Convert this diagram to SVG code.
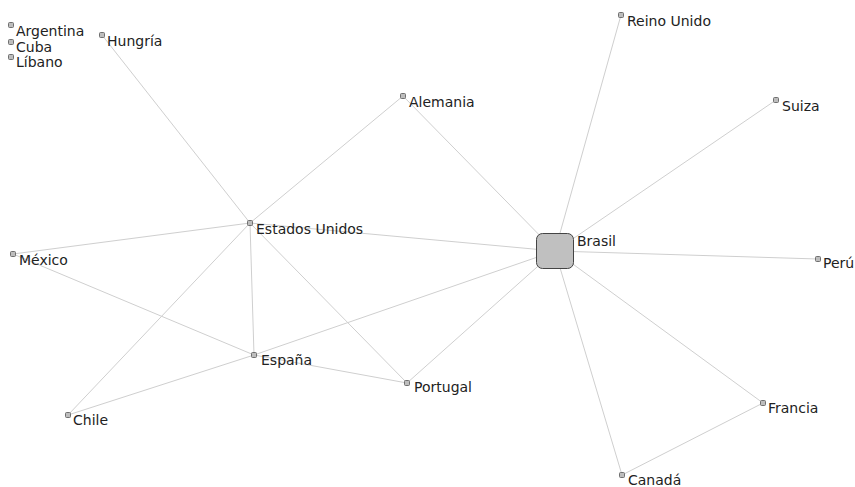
<svg xmlns="http://www.w3.org/2000/svg" width="855" height="487" viewBox="0 0 855 487">
<style>
.e{stroke:#cfcfcf;stroke-width:1;fill:none}
.n{fill:#bdbdbd;stroke:#707070;stroke-width:1}
.t{font-family:"DejaVu Sans",Verdana,sans-serif;font-size:14px;fill:#222}
</style>
<rect width="855" height="487" fill="#fff"/>
<g id="connectors">
<line class="e" x1="102" y1="35" x2="250" y2="223"/>
<line class="e" x1="403" y1="96" x2="250" y2="223"/>
<line class="e" x1="403" y1="96" x2="555" y2="251"/>
<line class="e" x1="621" y1="15" x2="555" y2="251"/>
<line class="e" x1="776" y1="100" x2="555" y2="251"/>
<line class="e" x1="250" y1="223" x2="555" y2="251"/>
<line class="e" x1="818" y1="259" x2="555" y2="251"/>
<line class="e" x1="13" y1="254" x2="250" y2="223"/>
<line class="e" x1="13" y1="254" x2="254" y2="355"/>
<line class="e" x1="254" y1="355" x2="555" y2="251"/>
<line class="e" x1="254" y1="355" x2="407" y2="383"/>
<line class="e" x1="254" y1="355" x2="68" y2="415"/>
<line class="e" x1="250" y1="223" x2="254" y2="355"/>
<line class="e" x1="250" y1="223" x2="407" y2="383"/>
<line class="e" x1="250" y1="223" x2="68" y2="415"/>
<line class="e" x1="407" y1="383" x2="555" y2="251"/>
<line class="e" x1="555" y1="251" x2="763" y2="403"/>
<line class="e" x1="555" y1="251" x2="622" y2="475"/>
<line class="e" x1="763" y1="403" x2="622" y2="475"/>
</g>
<g id="argentina"><rect class="n" x="8.5" y="22.5" width="5" height="5" rx="1"/><text class="t" x="16" y="36">Argentina</text></g>
<g id="cuba"><rect class="n" x="8.5" y="39.5" width="5" height="5" rx="1"/><text class="t" x="16" y="52">Cuba</text></g>
<g id="libano"><rect class="n" x="8.5" y="54.5" width="5" height="5" rx="1"/><text class="t" x="16" y="67">Líbano</text></g>
<g id="hungria"><rect class="n" x="99.5" y="32.5" width="5" height="5" rx="1"/><text class="t" x="107" y="46">Hungría</text></g>
<g id="alemania"><rect class="n" x="400.5" y="93.5" width="5" height="5" rx="1"/><text class="t" x="409" y="107">Alemania</text></g>
<g id="reino-unido"><rect class="n" x="618.5" y="12.5" width="5" height="5" rx="1"/><text class="t" x="627" y="26">Reino Unido</text></g>
<g id="suiza"><rect class="n" x="773.5" y="97.5" width="5" height="5" rx="1"/><text class="t" x="782" y="111">Suiza</text></g>
<g id="estados-unidos"><rect class="n" x="247.5" y="220.5" width="5" height="5" rx="1"/><text class="t" x="256" y="234">Estados Unidos</text></g>
<g id="mexico"><rect class="n" x="10.5" y="251.5" width="5" height="5" rx="1"/><text class="t" x="19" y="265">México</text></g>
<g id="brasil"><rect x="536.5" y="233.5" width="37" height="35" rx="6" fill="#c0c0c0" stroke="#444" stroke-width="1"/><text class="t" x="577" y="246">Brasil</text></g>
<g id="peru"><rect class="n" x="815.5" y="256.5" width="5" height="5" rx="1"/><text class="t" x="823" y="268">Perú</text></g>
<g id="espana"><rect class="n" x="251.5" y="352.5" width="5" height="5" rx="1"/><text class="t" x="261" y="365">España</text></g>
<g id="portugal"><rect class="n" x="404.5" y="380.5" width="5" height="5" rx="1"/><text class="t" x="414" y="392">Portugal</text></g>
<g id="chile"><rect class="n" x="65.5" y="412.5" width="5" height="5" rx="1"/><text class="t" x="73" y="425">Chile</text></g>
<g id="francia"><rect class="n" x="760.5" y="400.5" width="5" height="5" rx="1"/><text class="t" x="768" y="413">Francia</text></g>
<g id="canada"><rect class="n" x="619.5" y="472.5" width="5" height="5" rx="1"/><text class="t" x="628" y="485">Canadá</text></g>
</svg>
